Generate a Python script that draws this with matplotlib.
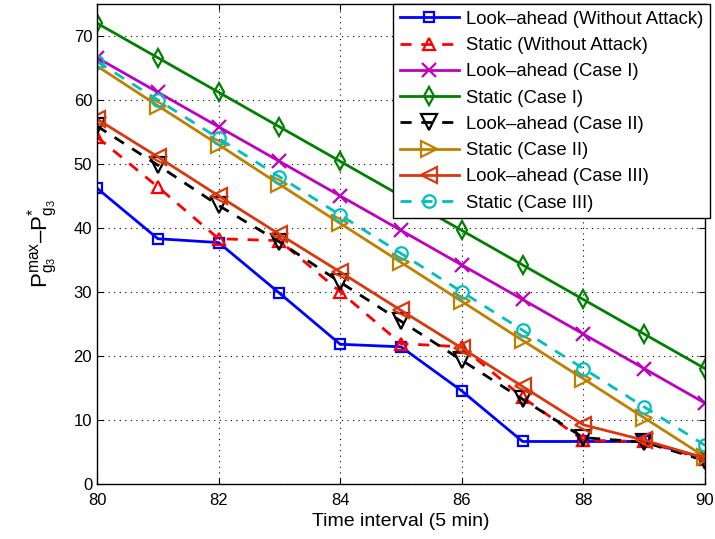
import matplotlib
matplotlib.use("Agg")
import matplotlib.pyplot as plt

plt.rcParams['font.family'] = ['Liberation Sans', 'DejaVu Sans']
plt.rcParams['mathtext.fontset'] = 'custom'
plt.rcParams['mathtext.rm'] = 'Liberation Sans'
plt.rcParams['mathtext.it'] = 'Liberation Sans'

##### DATA #####

intervals = [80, 81, 82, 83, 84, 85, 86, 87, 88, 89, 90]

la_no_attack = [46.2, 38.3, 37.7, 29.8, 21.8, 21.4, 14.5, 6.6, 6.6, 6.6, 4.0]
st_no_attack = [54.2, 46.4, 38.3, 38.0, 30.0, 21.9, 21.4, 13.5, 6.8, 6.6, 3.8]
la_case1 = [66.6, 61.2, 55.8, 50.4, 45.0, 39.6, 34.2, 28.8, 23.4, 18.0, 12.6]
st_case1 = [72.0, 66.6, 61.2, 55.8, 50.4, 45.0, 39.6, 34.2, 28.8, 23.4, 18.0]
la_case2 = [55.9, 49.8, 43.5, 37.8, 31.5, 25.4, 19.3, 13.2, 7.2, 6.5, 3.6]
st_case2 = [65.3, 59.1, 53.0, 46.8, 40.7, 34.6, 28.5, 22.4, 16.4, 10.3, 4.2]
la_case3 = [57.0, 51.1, 45.0, 39.0, 33.1, 27.1, 21.2, 15.2, 9.2, 6.8, 4.0]
st_case3 = [66.0, 60.0, 54.0, 48.0, 42.0, 36.0, 30.0, 24.0, 18.0, 12.0, 6.0]

labels = ['Look\u2013ahead (Without Attack)', 'Static (Without Attack)',
          'Look\u2013ahead (Case I)', 'Static (Case I)',
          'Look\u2013ahead (Case II)', 'Static (Case II)',
          'Look\u2013ahead (Case III)', 'Static (Case III)']

##### PLOT #####

series = [
    (la_no_attack, (0, 0, 1), '-', 's', 7),
    (st_no_attack, (1, 0, 0), '--', '^', 9),
    (la_case1, (0.75, 0, 0.75), '-', 'x', 10),
    (st_case1, (0, 0.5, 0), '-', 'd', 9),
    (la_case2, (0, 0, 0), '--', 'v', 11),
    (st_case2, (0.75, 0.5, 0), '-', '>', 11),
    (la_case3, (0.85, 0.22, 0.05), '-', '<', 11),
    (st_case3, (0, 0.75, 0.75), '--', 'o', 9),
]

fig = plt.figure(figsize=(7.15, 5.39), dpi=100)
ax = fig.add_axes([0.1357, 0.1026, 0.8503, 0.89])

for (vals, col, ls, mk, ms), lab in zip(series, labels):
    ax.plot(intervals, vals, color=col, linestyle=ls, linewidth=2,
            marker=mk, markersize=ms, markerfacecolor='none',
            markeredgewidth=1.6, markeredgecolor=col, label=lab,
            dashes=(4, 3.5) if ls == '--' else (None, None))

ax.set_xlim(80, 90)
ax.set_ylim(0, 75)
ax.set_xticks([80, 82, 84, 86, 88, 90])
ax.set_yticks([0, 10, 20, 30, 40, 50, 60, 70])
ax.tick_params(labelsize=12, direction='in', length=4, top=True, right=True)
ax.tick_params(axis='x', pad=7)
ax.grid(True, color='black', linestyle=(0, (1, 4)), linewidth=0.8)
for s in ax.spines.values():
    s.set_linewidth(1.0)

ax.set_xlabel('Time interval (5 min)', fontsize=14, labelpad=3)
ylab = 'P$^{\\mathrm{max}}_{\\mathrm{g_3}}$' + '\u2013' + 'P$^{*}_{\\mathrm{g_3}}$'
ax.set_ylabel(ylab, fontsize=16, labelpad=10)

leg = ax.legend(loc='upper right', bbox_to_anchor=(1.008, 0.999),
                fontsize=13.3, frameon=True, fancybox=False,
                edgecolor='black', framealpha=1, handlelength=3.2,
                borderaxespad=0.0, labelspacing=0.5, handletextpad=0.4,
                borderpad=0.35)
leg.get_frame().set_linewidth(1.0)

fig.savefig('out.png', dpi=100)
